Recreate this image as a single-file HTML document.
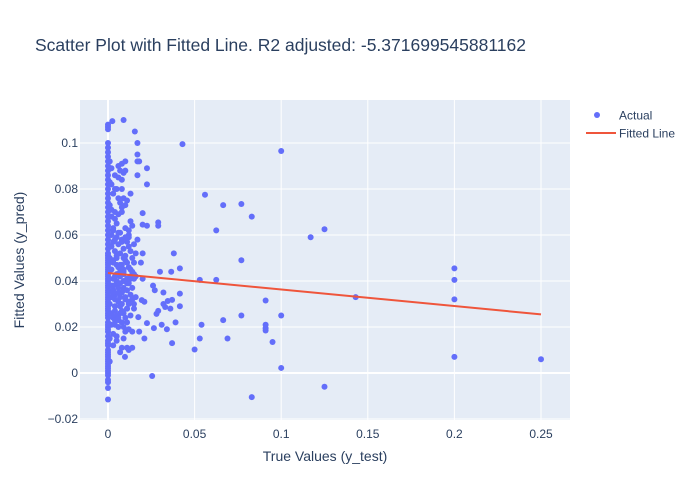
<!DOCTYPE html>
<html><head><meta charset="utf-8">
<style>
html,body{margin:0;padding:0;background:#fff;}
svg{display:block;font-family:"Liberation Sans",Arial,sans-serif;}
</style></head>
<body>
<svg id="chart" width="700" height="500">
  <text x="35" y="51" font-size="17.5" fill="#2a3f5f">Scatter Plot with Fitted Line. R2 adjusted: -5.371699545881162</text>
  <rect x="80" y="100" width="490" height="320" fill="#e5ecf6"/>
  <g id="grid"></g>
  <g id="ticks"></g>
  <g id="points"></g>
  <g id="fit"></g>
  <text x="325" y="461" text-anchor="middle" font-size="14" fill="#2a3f5f">True Values (y_test)</text>
  <text transform="translate(24,260) rotate(-90)" text-anchor="middle" font-size="14" fill="#2a3f5f">Fitted Values (y_pred)</text>
  <g>
    <g>
      <circle cx="597" cy="115" r="3" fill="#636efa"/>
      <text x="619" y="119.5" font-size="12" fill="#2a3f5f">Actual</text>
    </g>
    <g>
      <line x1="586" y1="133" x2="616" y2="133" stroke="#ef553b" stroke-width="2"/>
      <text x="619" y="137.5" font-size="12" fill="#2a3f5f">Fitted Line</text>
    </g>
  </g>
</svg>
<script>
const xTicks=[0,0.05,0.1,0.15,0.2,0.25];
const xTickLabels=["0","0.05","0.1","0.15","0.2","0.25"];
const yTicks=[-0.02,0,0.02,0.04,0.06,0.08,0.1];
const yTickLabels=["−0.02","0","0.02","0.04","0.06","0.08","0.1"];
const fitX=[0,0.25];
const fitY=[0.0435,0.0255];
const colY=[-0.0115,-0.0065,-0.004,-0.003,-0.001,0,0.001,0.002,0.003,0.004,0.005,0.006,0.007,0.008,0.009,0.01,0.012,0.013,0.014,0.016,0.018,0.019,0.02,0.021,0.022,0.024,0.025,0.026,0.027,0.028,0.029,0.03,0.031,0.032,0.033,0.034,0.035,0.036,0.037,0.038,0.039,0.04,0.041,0.042,0.043,0.044,0.045,0.046,0.047,0.048,0.049,0.05,0.051,0.052,0.054,0.056,0.058,0.06,0.062,0.064,0.066,0.068,0.07,0.072,0.074,0.076,0.078,0.08,0.082,0.084,0.086,0.088,0.09,0.092,0.094,0.096,0.098,0.1,0.106,0.107,0.108];
const actualX=[0.043,0.1,0.056,0.0665,0.077,0.0625,0.083,0.117,0.125,0.077,0.2,0.2,0.2,0.2,0.25,0.143,0.091,0.091,0.091,0.091,0.1,0.095,0.1,0.125,0.083,0.077,0.069,0.0665,0.053,0.0625,0.054,0.053,0.05,0.0415,0.038,0.0365,0.0415,0.0415,0.039,0.037,0.0345,0.032,0.033,0.032,0.03,0.036,0.034,0.031,0.029,0.028,0.0265,0.0255,0.037,0.029,0.029,0.0225,0.02,0.02,0.0225,0.0225,0.0155,0.017,0.017,0.017,0.009,0.0025,0.02,0.02,0.021,0.026,0.027,0.0225,0.0195,0.0175,0.018,0.014,0.0098,0.008];
const actualY=[0.0995,0.0965,0.0775,0.073,0.0735,0.062,0.068,0.059,0.0625,0.049,0.0455,0.0405,0.032,0.007,0.006,0.033,0.0315,0.021,0.0185,0.0195,0.025,0.0135,0.0022,-0.006,-0.0105,0.025,0.015,0.023,0.0405,0.0405,0.021,0.015,0.0102,0.0455,0.052,0.044,0.0345,0.029,0.022,0.0318,0.0313,0.03,0.0287,0.035,0.044,0.028,0.019,0.021,0.027,0.0257,0.0195,-0.0013,0.013,0.064,0.0655,0.064,0.0645,0.0695,0.082,0.089,0.105,0.095,0.092,0.086,0.11,0.1095,0.052,0.041,0.031,0.038,0.036,0.0217,0.0317,0.0243,0.018,0.011,0.007,0.011];
const clusterX=[
0.002,0.003,0.004,0.005,0.006,0.007,0.008,0.009,0.010,0.011,
0.012,0.013,0.014,0.015,0.016,0.002,0.003,0.004,0.005,0.006,
0.007,0.008,0.009,0.010,0.011,0.012,0.013,0.014,0.015,0.016,
0.002,0.003,0.004,0.005,0.006,0.007,0.008,0.009,0.010,0.011,
0.012,0.013,0.014,0.015,0.002,0.003,0.004,0.005,0.006,0.007,
0.008,0.009,0.010,0.011,0.012,0.013,0.014,0.002,0.003,0.004,
0.005,0.006,0.007,0.008,0.009,0.010,0.011,0.012,0.002,0.003,
0.004,0.005,0.006,0.007,0.008,0.009,0.010,0.011,0.002,0.003,
0.004,0.005,0.006,0.007,0.008,0.009,0.010,0.002,0.004,0.006,
0.008,0.010,0.012,0.003,0.005,0.007,0.009,0.011,0.013,0.002,
0.004,0.006,0.008,0.010,0.003,0.005,0.007,0.009,0.012,0.015,
0.017,0.019,0.016,0.018,0.014,0.021,0.013,0.011,0.004,0.006,
0.008,0.002,0.003,0.005,0.007,0.009,0.011,0.013,0.015,0.017,
0.001,0.001,0.001,0.001,0.001,0.001,0.001,0.001,0.001,0.001,
0.003,0.005,0.007,0.009,0.011,0.013,0.004,0.006,0.008,0.010,
0.012,0.014,0.003,0.005,0.007,0.009,0.011,0.002,0.004,0.006,
0.008,0.010,0.012,0.003,0.006,0.009,0.012,0.015,0.004,0.007];
const clusterY=[
0.045,0.048,0.042,0.050,0.046,0.044,0.047,0.043,0.049,0.041,
0.046,0.045,0.044,0.048,0.042,0.038,0.036,0.034,0.039,0.037,
0.033,0.035,0.040,0.032,0.036,0.031,0.034,0.037,0.030,0.033,
0.055,0.057,0.053,0.059,0.056,0.052,0.058,0.054,0.051,0.057,
0.055,0.053,0.050,0.028,0.026,0.024,0.027,0.025,0.023,0.029,
0.022,0.026,0.024,0.028,0.062,0.066,0.064,0.068,0.063,0.067,
0.065,0.069,0.061,0.070,0.020,0.018,0.022,0.019,0.021,0.017,
0.023,0.016,0.020,0.074,0.072,0.076,0.073,0.075,0.071,0.078,
0.070,0.080,0.085,0.088,0.091,0.087,0.092,0.089,0.086,0.090,
0.084,0.088,0.010,0.012,0.014,0.009,0.015,0.011,0.078,0.082,
0.080,0.076,0.080,0.059,0.062,0.047,0.046,0.044,0.060,0.056,
0.058,0.048,0.052,0.092,0.018,0.015,0.025,0.028,0.032,0.035,
0.030,0.033,0.038,0.040,0.042,0.036,0.039,0.041,0.043,0.100,
0.092,0.083,0.073,0.060,0.045,0.030,0.015,0.005,0.050,0.038,
0.041,0.043,0.039,0.037,0.040,0.042,0.029,0.031,0.027,0.033,
0.030,0.032,0.049,0.051,0.047,0.050,0.048,0.060,0.058,0.061,
0.057,0.063,0.059,0.035,0.024,0.045,0.039,0.041,0.021,0.026];

const X0=80,X1=570,Y0=100,Y1=420;
function sx(v){return 108+v*1732;}
function sy(v){return 373-v*2300;}
const NS='http://www.w3.org/2000/svg';
function mk(tag,attrs,parent){const e=document.createElementNS(NS,tag);for(const k in attrs)e.setAttribute(k,attrs[k]);parent.appendChild(e);return e;}
const grid=document.getElementById('grid'),ticks=document.getElementById('ticks');
xTicks.forEach((t,i)=>{
  const l=mk('line',{x1:sx(t),x2:sx(t),y1:Y0,y2:Y1,stroke:'#fff','stroke-width':t===0?2:1},grid);
  
  
  const tx=mk('text',{x:sx(t),y:438,'text-anchor':'middle','font-size':12,fill:'#2a3f5f'},ticks);
  tx.textContent=xTickLabels[i];
  
  
});
yTicks.forEach((t,i)=>{
  const l=mk('line',{x1:X0,x2:X1,y1:sy(t),y2:sy(t),stroke:'#fff','stroke-width':t===0?2:1},grid);
  
  
  const tx=mk('text',{x:78,y:sy(t)+4,'text-anchor':'end','font-size':12,fill:'#2a3f5f'},ticks);
  tx.textContent=yTickLabels[i];
  
  
});
const pts=document.getElementById('points');
function pt(x,y){
  if(x===undefined||y===undefined)return;
  const c=mk('circle',{cx:sx(x),cy:sy(y),r:3,fill:'#636efa'},pts);
  
  
}
colY.forEach(y=>pt(0,y));
const n1=Math.min(actualX.length,actualY.length);
for(let i=0;i<n1;i++)pt(actualX[i],actualY[i]);
const n2=Math.min(clusterX.length,clusterY.length);
for(let i=0;i<n2;i++)pt(clusterX[i],clusterY[i]);
const fit=document.getElementById('fit');
const fl=mk('line',{x1:sx(fitX[0]),y1:sy(fitY[0]),x2:sx(fitX[1]),y2:sy(fitY[1]),stroke:'#ef553b','stroke-width':2},fit);


</script>
</body></html>
